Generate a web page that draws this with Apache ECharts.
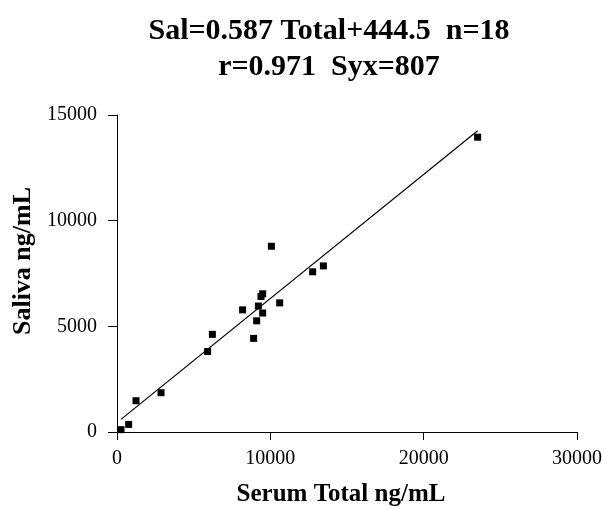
<!DOCTYPE html>
<html>
<head>
<meta charset="utf-8">
<script src="https://cdn.jsdelivr.net/npm/echarts@6/dist/echarts.min.js"></script>
<style>
html, body { margin: 0; padding: 0; background: #fff; }
#main { width: 605px; height: 509px; }
</style>
</head>
<body>
<div id="main"></div>
<script>
// values
var serumTotal = [260, 760, 1240, 2870, 5910, 6220, 8190, 8910, 9110, 9220, 9390, 9500, 9500, 10070, 10610, 12760, 13460, 23520];
var saliva     = [110, 360, 1480, 1860, 3810, 4620, 5780, 4430, 5260, 5960, 6410, 6540, 5630, 8790, 6110, 7580, 7860, 13950];
var slope = 0.587, intercept = 444.5;
var fitX = [260, 23520];
var xTicks = [0, 10000, 20000, 30000];
var yTicks = [0, 5000, 10000, 15000];

var points = [];
for (var i = 0; i < serumTotal.length; i++) {
    points.push([serumTotal[i], saliva[i]]);
}
var fitLine = [];
for (var j = 0; j < fitX.length; j++) {
    fitLine.push([fitX[j], slope * fitX[j] + intercept]);
}

var serif = 'Liberation Serif';
var chart = echarts.init(document.getElementById('main'));
var option = {
    backgroundColor: '#fff',
    animation: false,
    title: {
        text: 'Sal=0.587 Total+444.5  n=18\nr=0.971  Syx=807',
        left: 324,
        top: 8,
        textAlign: 'center',
        textStyle: {
            fontFamily: serif,
            fontWeight: 'bold',
            fontSize: 30,
            lineHeight: 36,
            color: '#000'
        }
    },
    grid: {
        left: 117,
        right: 28,
        top: 115,
        bottom: 77,
        containLabel: false,
        outerBoundsMode: 'none'
    },
    xAxis: {
        type: 'value',
        min: xTicks[0],
        max: xTicks[xTicks.length - 1],
        interval: 10000,
        name: 'Serum Total ng/mL',
        nameLocation: 'middle',
        nameGap: 50,
        nameTextStyle: {
            fontFamily: serif, fontWeight: 'bold', fontSize: 25, color: '#000',
            padding: [0, 12, 0, 0]
        },
        splitLine: { show: false },
        axisLine: { onZero: false, lineStyle: { color: '#000', width: 1 } },
        axisTick: { show: true, length: 8, lineStyle: { color: '#000' } },
        axisLabel: {
            fontFamily: serif, fontSize: 20, color: '#000', margin: 17,
            formatter: function (v) { return String(v); }
        }
    },
    yAxis: {
        type: 'value',
        min: yTicks[0],
        max: yTicks[yTicks.length - 1],
        interval: 5000,
        name: 'Saliva ng/mL',
        nameLocation: 'middle',
        nameGap: 80,
        nameTextStyle: {
            fontFamily: serif, fontWeight: 'bold', fontSize: 26, color: '#000',
            padding: [0, 0, 0, 25]
        },
        splitLine: { show: false },
        axisLine: { show: true, onZero: false, lineStyle: { color: '#000', width: 1 } },
        axisTick: { show: true, length: 9, lineStyle: { color: '#000' } },
        axisLabel: {
            fontFamily: serif, fontSize: 20, color: '#000', margin: 20,
            formatter: function (v) { return String(v); }
        }
    },
    series: [
        {
            name: 'fit',
            type: 'line',
            data: fitLine,
            symbol: 'none',
            silent: true,
            lineStyle: { color: '#000', width: 1.2 },
            z: 1
        },
        {
            name: 'samples',
            type: 'scatter',
            data: points,
            symbol: 'rect',
            symbolSize: 7,
            itemStyle: { color: '#000', opacity: 1 },
            z: 2
        }
    ]
};
chart.setOption(option);
</script>
</body>
</html>
